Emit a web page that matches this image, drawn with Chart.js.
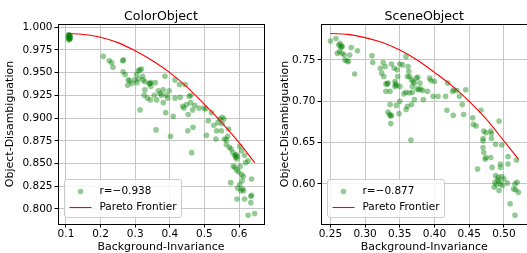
<!DOCTYPE html>
<html>
<head>
<meta charset="utf-8">
<script src="https://cdn.jsdelivr.net/npm/chart.js@4.4.0/dist/chart.umd.min.js"></script>
<style>
  html, body { margin: 0; padding: 0; background: #fff; overflow: hidden; }
  body { width: 527px; height: 253px; position: relative; }
  canvas { position: absolute; top: 0; }
  #colorChart { left: 0; }
  #sceneChart { left: 262px; }
</style>
</head>
<body>
<canvas id="colorChart" width="270" height="253"></canvas>
<canvas id="sceneChart" width="270" height="253"></canvas>
<script>
// ColorObject panel
const colorX = [
  0.107, 0.108, 0.109, 0.110, 0.111, 0.108, 0.112, 0.109, 0.110, 0.113, 0.107, 0.111,
  0.208, 0.225, 0.232, 0.236, 0.264, 0.266, 0.265, 0.271, 0.280, 0.284, 0.278, 0.290,
  0.299, 0.304, 0.309, 0.313, 0.318, 0.310, 0.305, 0.321, 0.323, 0.328, 0.328, 0.314,
  0.326, 0.335, 0.340, 0.343, 0.345, 0.345, 0.344, 0.355, 0.358, 0.360, 0.362, 0.367,
  0.372, 0.376, 0.381, 0.386, 0.390, 0.394, 0.381, 0.388, 0.398, 0.415, 0.415, 0.410,
  0.402, 0.428, 0.430, 0.437, 0.441, 0.444, 0.448, 0.453, 0.452, 0.456, 0.460, 0.461,
  0.466, 0.467, 0.463, 0.472, 0.484, 0.498, 0.504, 0.506, 0.511, 0.520, 0.527, 0.533,
  0.539, 0.544, 0.551, 0.556, 0.535, 0.549, 0.558, 0.563, 0.551, 0.570, 0.567, 0.563,
  0.572, 0.577, 0.582, 0.588, 0.590, 0.593, 0.595, 0.591, 0.602, 0.607, 0.583, 0.588,
  0.593, 0.598, 0.603, 0.607, 0.612, 0.626, 0.636, 0.576, 0.602, 0.609, 0.610, 0.613,
  0.636, 0.634, 0.616, 0.594, 0.634, 0.626, 0.645, 0.596, 0.605, 0.616, 0.619
];
const colorY = [
  0.990, 0.992, 0.988, 0.989, 0.987, 0.986, 0.990, 0.991, 0.987, 0.988, 0.988, 0.991,
  0.968, 0.963, 0.961, 0.956, 0.963, 0.964, 0.951, 0.948, 0.942, 0.941, 0.936, 0.938,
  0.942, 0.948, 0.952, 0.953, 0.954, 0.943, 0.939, 0.946, 0.942, 0.940, 0.931, 0.909,
  0.925, 0.922, 0.938, 0.938, 0.939, 0.935, 0.920, 0.925, 0.939, 0.887, 0.920, 0.930,
  0.927, 0.925, 0.931, 0.946, 0.925, 0.922, 0.917, 0.906, 0.930, 0.942, 0.922, 0.902,
  0.880, 0.937, 0.923, 0.913, 0.911, 0.937, 0.915, 0.904, 0.886, 0.924, 0.917, 0.925,
  0.909, 0.890, 0.862, 0.914, 0.911, 0.911, 0.910, 0.881, 0.897, 0.906, 0.892, 0.877,
  0.895, 0.899, 0.901, 0.899, 0.886, 0.886, 0.877, 0.876, 0.894, 0.888, 0.880, 0.871,
  0.868, 0.866, 0.862, 0.859, 0.857, 0.855, 0.858, 0.860, 0.869, 0.864, 0.847, 0.846,
  0.843, 0.841, 0.847, 0.838, 0.836, 0.853, 0.833, 0.829, 0.827, 0.831, 0.822, 0.820,
  0.815, 0.814, 0.811, 0.811, 0.807, 0.793, 0.795, 0.823, 0.820, 0.859, 0.851
];
const colorFrontX = [0.104, 0.15, 0.20, 0.25, 0.30, 0.35, 0.40, 0.45, 0.50, 0.55, 0.60, 0.645];
const colorFrontY = [0.993, 0.992, 0.989, 0.983, 0.974, 0.963, 0.950, 0.934, 0.915, 0.895, 0.873, 0.851];
const colorXTicks = ["0.1", "0.2", "0.3", "0.4", "0.5", "0.6"];
const colorYTicks = ["0.800", "0.825", "0.850", "0.875", "0.900", "0.925", "0.950", "0.975", "1.000"];
const colorLabel = "r=\u22120.938";

// SceneObject panel
const sceneX = [
  0.250, 0.258, 0.262, 0.264, 0.266, 0.265, 0.267, 0.263, 0.267, 0.260, 0.270, 0.271,
  0.274, 0.276, 0.278, 0.280, 0.289, 0.285, 0.310, 0.311, 0.326, 0.322, 0.329, 0.324,
  0.327, 0.338, 0.342, 0.330, 0.332, 0.333, 0.336, 0.330, 0.343, 0.344, 0.345, 0.343,
  0.346, 0.350, 0.354, 0.347, 0.359, 0.362, 0.363, 0.350, 0.361, 0.364, 0.367, 0.369,
  0.371, 0.368, 0.374, 0.376, 0.375, 0.377, 0.380, 0.364, 0.368, 0.359, 0.356, 0.379,
  0.383, 0.384, 0.371, 0.367, 0.359, 0.350, 0.345, 0.336, 0.333, 0.335, 0.337, 0.338,
  0.337, 0.349, 0.361, 0.366, 0.393, 0.395, 0.400, 0.390, 0.398, 0.405, 0.416, 0.419,
  0.426, 0.428, 0.432, 0.418, 0.427, 0.436, 0.440, 0.445, 0.442, 0.455, 0.456, 0.460,
  0.467, 0.470, 0.470, 0.471, 0.474, 0.481, 0.482, 0.482, 0.470, 0.471, 0.488, 0.493,
  0.497, 0.474, 0.473, 0.462, 0.481, 0.483, 0.495, 0.506, 0.495, 0.488, 0.492, 0.497,
  0.500, 0.491, 0.493, 0.487, 0.489, 0.495, 0.498, 0.493, 0.486, 0.505, 0.516, 0.514,
  0.517, 0.519, 0.506, 0.518, 0.509, 0.516, 0.521
];
const sceneY = [
  0.773, 0.776, 0.768, 0.770, 0.767, 0.765, 0.766, 0.760, 0.758, 0.758, 0.756, 0.750,
  0.749, 0.748, 0.756, 0.765, 0.761, 0.733, 0.755, 0.747, 0.747, 0.740, 0.742, 0.734,
  0.730, 0.745, 0.740, 0.721, 0.721, 0.722, 0.712, 0.712, 0.724, 0.721, 0.719, 0.718,
  0.738, 0.745, 0.744, 0.730, 0.754, 0.742, 0.736, 0.718, 0.730, 0.730, 0.726, 0.724,
  0.722, 0.718, 0.728, 0.729, 0.715, 0.714, 0.715, 0.710, 0.711, 0.711, 0.709, 0.722,
  0.713, 0.702, 0.702, 0.696, 0.690, 0.700, 0.695, 0.696, 0.687, 0.684, 0.682, 0.683,
  0.673, 0.685, 0.694, 0.653, 0.728, 0.725, 0.724, 0.712, 0.706, 0.706, 0.706, 0.722,
  0.712, 0.714, 0.713, 0.689, 0.683, 0.706, 0.696, 0.714, 0.684, 0.680, 0.672, 0.670,
  0.689, 0.655, 0.652, 0.664, 0.662, 0.664, 0.661, 0.655, 0.644, 0.638, 0.648, 0.676,
  0.647, 0.632, 0.630, 0.618, 0.632, 0.620, 0.624, 0.624, 0.620, 0.610, 0.608, 0.609,
  0.606, 0.605, 0.603, 0.602, 0.599, 0.600, 0.598, 0.592, 0.596, 0.601, 0.600, 0.594,
  0.593, 0.602, 0.633, 0.629, 0.576, 0.562, 0.590
];
const sceneFrontX = [0.250, 0.275, 0.300, 0.325, 0.350, 0.375, 0.400, 0.425, 0.450, 0.475, 0.500, 0.521];
const sceneFrontY = [0.782, 0.781, 0.777, 0.771, 0.762, 0.750, 0.735, 0.719, 0.700, 0.678, 0.652, 0.630];
const sceneXTicks = ["0.25", "0.30", "0.35", "0.40", "0.45", "0.50"];
const sceneYTicks = ["0.60", "0.65", "0.70", "0.75"];
const sceneLabel = "r=\u22120.877";

const FONT = '"DejaVu Sans", sans-serif';
Chart.defaults.font.family = FONT;
Chart.defaults.color = "#000";

const pointFill = "rgba(0,128,0,0.42)";

// frame, panel title and legend box drawn over the plot
const decorPlugin = {
  id: "decor",
  afterDraw(chart, args, opts) {
    const ctx = chart.ctx;
    const a = chart.chartArea;
    ctx.save();
    ctx.strokeStyle = "#000";
    ctx.lineWidth = 1;
    ctx.strokeRect(Math.floor(a.left) + 0.5, Math.floor(a.top) + 0.5,
      Math.round(a.right - a.left), Math.round(a.bottom - a.top));

    ctx.fillStyle = "#000";
    ctx.font = "12.6px " + FONT;
    ctx.textAlign = "center";
    ctx.textBaseline = "alphabetic";
    ctx.fillText(opts.title, (a.left + a.right) / 2, a.top - 4.5);

    // legend, lower left
    const ds = chart.data.datasets;
    const bx = Math.floor(a.left) + 6.5, bh = 38, bw = 117;
    const by = Math.floor(a.bottom) - 6.5 - bh;
    ctx.beginPath();
    ctx.roundRect(bx, by, bw, bh, 2.5);
    ctx.fillStyle = "rgba(255,255,255,0.8)";
    ctx.fill();
    ctx.strokeStyle = "#cccccc";
    ctx.stroke();

    const r1 = by + 12, r2 = by + 28;
    ctx.beginPath();
    ctx.arc(bx + 16, r1, 2.8, 0, Math.PI * 2);
    ctx.fillStyle = pointFill;
    ctx.fill();
    ctx.beginPath();
    ctx.moveTo(bx + 5, r2);
    ctx.lineTo(bx + 27, r2);
    ctx.strokeStyle = "#ff0000";
    ctx.lineWidth = 1.1;
    ctx.stroke();

    ctx.fillStyle = "#000";
    ctx.font = "10.5px " + FONT;
    ctx.textAlign = "left";
    ctx.textBaseline = "middle";
    ctx.fillText(ds[0].label, bx + 35, r1);
    ctx.fillText(ds[1].label, bx + 35, r2);
    ctx.restore();
  }
};

function makeChart(id, o) {
  const xVals = o.xTicks.map(Number);
  const yVals = o.yTicks.map(Number);
  return new Chart(document.getElementById(id), {
    type: "scatter",
    data: {
      datasets: [
        {
          label: o.label,
          data: o.xs.map((x, i) => ({ x: x, y: o.ys[i] })),
          backgroundColor: pointFill,
          borderWidth: 0,
          pointRadius: 2.8,
          pointHoverRadius: 2.8,
          order: 1
        },
        {
          label: "Pareto Frontier",
          data: o.fx.map((x, i) => ({ x: x, y: o.fy[i] })),
          showLine: true,
          borderColor: "#ff0000",
          borderWidth: 1.1,
          pointRadius: 0,
          cubicInterpolationMode: "monotone",
          fill: false,
          order: 0
        }
      ]
    },
    options: {
      responsive: false,
      animation: false,
      events: [],
      layout: { padding: { left: 0, right: o.padRight, top: 24, bottom: 0 } },
      plugins: {
        legend: { display: false },
        tooltip: { enabled: false },
        decor: { title: o.title }
      },
      scales: {
        x: {
          type: "linear",
          position: "bottom",
          min: o.xMin,
          max: o.xMax,
          afterBuildTicks: s => { s.ticks = xVals.map(v => ({ value: v })); },
          afterFit: s => { s.height = 29; },
          border: { display: false },
          grid: { color: "#c6c6c6", lineWidth: 1, tickColor: "#000", tickLength: 3.5 },
          ticks: { autoSkip: false, maxRotation: 0, padding: 0, font: { size: 10.5 },
                   callback: (v, i) => o.xTicks[i] },
          title: { display: true, text: "Background-Invariance", font: { size: 11 },
                   padding: { top: 0, bottom: -1 } }
        },
        y: {
          type: "linear",
          position: "left",
          min: o.yMin,
          max: o.yMax,
          afterBuildTicks: s => { s.ticks = yVals.map(v => ({ value: v })); },
          afterFit: s => { s.width = o.yWidth; },
          border: { display: false },
          grid: { color: "#c6c6c6", lineWidth: 1, tickColor: "#000", tickLength: 3.5 },
          ticks: { autoSkip: false, padding: 2, font: { size: 10.5 },
                   callback: (v, i) => o.yTicks[i] },
          title: { display: true, text: "Object-Disambiguation", font: { size: 11 },
                   padding: { top: o.yTitlePad, bottom: 0 } }
        }
      }
    },
    plugins: [decorPlugin]
  });
}

makeChart("colorChart", {
  title: "ColorObject", label: colorLabel,
  xs: colorX, ys: colorY, fx: colorFrontX, fy: colorFrontY,
  xTicks: colorXTicks, yTicks: colorYTicks,
  xMin: 0.077, xMax: 0.672, yMin: 0.7835, yMax: 1.0035,
  yWidth: 58, yTitlePad: 3.6, padRight: 6
});

makeChart("sceneChart", {
  title: "SceneObject", label: sceneLabel,
  xs: sceneX, ys: sceneY, fx: sceneFrontX, fy: sceneFrontY,
  xTicks: sceneXTicks, yTicks: sceneYTicks,
  xMin: 0.2365, xMax: 0.534, yMin: 0.5515, yMax: 0.7935,
  yWidth: 59, yTitlePad: 16.4, padRight: 4.5
});
</script>
</body>
</html>
